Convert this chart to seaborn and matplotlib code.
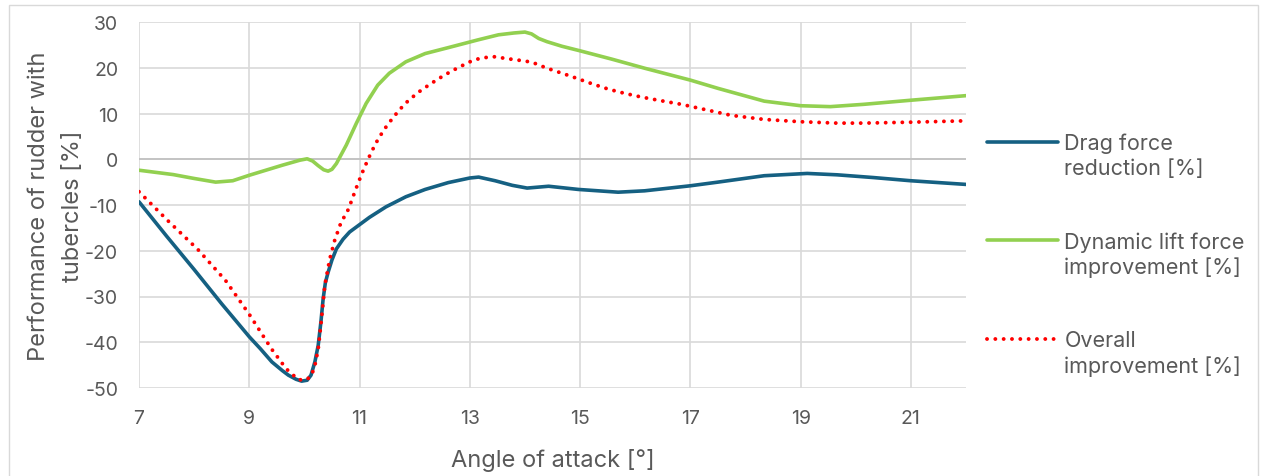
import matplotlib
matplotlib.use("Agg")
import matplotlib.pyplot as plt
from matplotlib.patches import Rectangle
import seaborn as sns

# angle of attack [deg] and performance [%]
drag_x = [7, 7.5, 8, 8.5, 9, 9.2, 9.41, 9.6, 9.71, 9.85, 9.95, 10.05, 10.12, 10.19,
          10.25, 10.3, 10.34, 10.38, 10.43, 10.5, 10.58, 10.7, 10.82, 11.0, 11.18,
          11.48, 11.84, 12.19, 12.61, 13.0, 13.16, 13.46, 13.77, 14.04, 14.43,
          14.97, 15.69, 16.17, 17.0, 17.5, 18.34, 19.12, 19.66, 20.32, 21.0, 22.0]
drag_y = [-9.3, -16.8, -24.1, -31.6, -38.8, -41.4, -44.3, -46.2, -47.2, -48.1,
          -48.5, -48.3, -47.2, -44.3, -40.7, -35.5, -30.5, -27.0, -24.7, -22.0,
          -19.6, -17.5, -15.9, -14.3, -12.7, -10.4, -8.2, -6.6, -5.1, -4.1, -3.9,
          -4.7, -5.7, -6.3, -5.9, -6.6, -7.2, -6.9, -5.8, -5.0, -3.6, -3.1, -3.4,
          -4.0, -4.7, -5.5]

lift_x = [7, 7.62, 8.0, 8.39, 8.7, 9.0, 9.6, 9.92, 10.05, 10.15, 10.25, 10.35, 10.43,
          10.5, 10.58, 10.76, 10.94, 11.12, 11.33, 11.54, 11.84, 12.19, 12.61,
          13.15, 13.52, 13.8, 14.0, 14.12, 14.25, 14.4, 14.67, 15.0, 15.57, 16.17,
          17.0, 17.5, 18.34, 19.0, 19.54, 20.14, 21.0, 22.0]
lift_y = [-2.4, -3.35, -4.2, -5.0, -4.7, -3.5, -1.3, -0.2, 0.1, -0.4, -1.4, -2.3,
          -2.6, -2.2, -0.95, 3.1, 7.8, 12.2, 16.2, 18.8, 21.3, 23.1, 24.4, 26.1,
          27.2, 27.6, 27.8, 27.4, 26.4, 25.7, 24.7, 23.7, 21.9, 19.9, 17.3, 15.5,
          12.7, 11.7, 11.5, 12.0, 12.9, 13.9]

overall_x = [7, 7.53, 8.07, 8.57, 9.0, 9.4, 9.67, 9.89, 10.04, 10.13, 10.19, 10.25,
             10.31, 10.37, 10.46, 10.55, 10.67, 10.77, 10.83, 10.93, 11.04, 11.16,
             11.29, 11.44, 11.62, 11.82, 12.05, 12.29, 12.54, 12.8, 13.07, 13.25,
             13.45, 13.67, 13.98, 14.13, 14.4, 14.82, 15.24, 15.52, 15.81, 16.11,
             16.42, 16.84, 17.14, 17.74, 18.34, 19.0, 19.66, 20.14, 21.0, 22.0]
overall_y = [-7.1, -13.5, -19.75, -26.5, -33.9, -41.4, -45.8, -48.2, -48.2, -47.2,
             -45.1, -41.5, -34.9, -27.6, -21.8, -17.7, -13.6, -11.7, -9.9, -6.6,
             -3.2, 0.15, 3.4, 6.4, 9.3, 12.1, 14.5, 16.5, 18.4, 20.1, 21.7, 22.2,
             22.4, 22.0, 21.5, 21.2, 19.9, 18.2, 16.4, 15.3, 14.4, 13.6, 12.9, 12.0,
             11.2, 9.6, 8.7, 8.2, 7.9, 7.9, 8.1, 8.4]

x_ticks = [7, 9, 11, 13, 15, 17, 19, 21]
y_ticks = [-50, -40, -30, -20, -10, 0, 10, 20, 30]

sns.set_style("whitegrid")
plt.rcParams['font.family'] = ['Inter', 'DejaVu Sans']
plt.rcParams['axes.unicode_minus'] = False
text_col = '#595959'
grid_col = '#D9D9D9'

W, H = 1265, 477
fig = plt.figure(figsize=(W / 100, H / 100), dpi=100)
ax = fig.add_axes([139 / W, 1 - 389 / H, (966 - 139) / W, (389 - 23) / H])

sns.lineplot(x=drag_x, y=drag_y, ax=ax, color='#156082', lw=2.6,
             label='Drag force\nreduction [%]', sort=False, estimator=None)
sns.lineplot(x=lift_x, y=lift_y, ax=ax, color='#92D050', lw=2.6,
             label='Dynamic lift force\nimprovement [%]', sort=False, estimator=None)
sns.lineplot(x=overall_x, y=overall_y, ax=ax, color='#FF0000', lw=2.8,
             linestyle=(0, (0.01, 2.13)), label='Overall\nimprovement [%]',
             sort=False, estimator=None)
for ln in ax.lines:
    ln.set_dash_capstyle('round')
    ln.set_solid_joinstyle('round')

ax.axhline(0, color='#BFBFBF', lw=1.2, zorder=1)

ax.set_xlim(7, 22)
ax.set_ylim(-50, 30)
ax.set_xticks(x_ticks)
ax.set_yticks(y_ticks)
ax.grid(True, color=grid_col, lw=1.2)
for s in ax.spines.values():
    s.set_visible(False)
ax.tick_params(length=0, labelsize=14, colors=text_col)
ax.tick_params(axis='x', pad=15)
ax.tick_params(axis='y', pad=15)

ax.set_xlabel('Angle of attack [°]', fontsize=17, color=text_col, labelpad=15)
ax.set_ylabel('Performance of rudder with\ntubercles [%]', fontsize=17,
              color=text_col, labelpad=0, linespacing=1.75)

leg = ax.legend(loc='upper left', bbox_to_anchor=(987 / W, 1 - 134 / H),
                bbox_transform=fig.transFigure, frameon=False, fontsize=15.5,
                handlelength=3.3, handleheight=1.0, handletextpad=0.3,
                labelspacing=2.45, borderpad=0, borderaxespad=0)
for t in leg.get_texts():
    t.set_color(text_col)
    t.set_linespacing(1.3)
for col in leg._legend_handle_box.get_children():
    for row in col.get_children():
        row.align = 'top'

fig.patches.append(Rectangle((9 / W, -0.05), (1258 - 9) / W, 1 - 6 / H + 0.05,
                             transform=fig.transFigure, fill=False,
                             edgecolor=grid_col, lw=1.0))

fig.savefig('out.png', dpi=100)
